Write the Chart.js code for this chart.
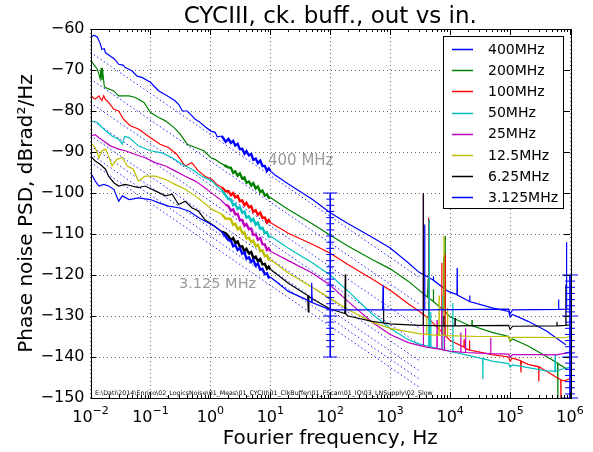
<!DOCTYPE html>
<html lang="en">
<head>
<meta charset="UTF-8">
<title>CYCIII, ck. buff., out vs in.</title>
<script src="https://cdn.jsdelivr.net/npm/chart.js@4"></script>
<style>
  html, body { margin: 0; padding: 0; background: #fff; }
  canvas { display: block; }
</style>
</head>
<body>
<canvas id="psdChart" width="593" height="452"></canvas>

<script>
// Values: [frequency Hz, dBrad^2/Hz]
var labels = ['400MHz', '200MHz', '100MHz', '50MHz', '25MHz', '12.5MHz', '6.25MHz', '3.125MHz'];
var colors = ['#0000ff', '#008000', '#ff0000', '#00bfbf', '#bf00bf', '#bfbf00', '#000000', '#0000ff'];

// low end of each measurement, 10 mHz .. 2 Hz
var low400 = [[0.01,-62],[0.0115,-61.5],[0.013,-62],[0.0145,-63.5],[0.0155,-65],[0.017,-64.8],[0.0178,-65.8],[0.021,-66.5],[0.025,-67.3],[0.0295,-68.6],[0.035,-68.8],[0.038,-69.4],[0.049,-70.2],[0.06,-71.5],[0.072,-71.8],[0.1,-73],[0.12,-74.2],[0.138,-75.1],[0.19,-76.3],[0.257,-77.5],[0.3,-78.5],[0.34,-80],[0.41,-80],[0.48,-81],[0.56,-82],[0.65,-82.6],[0.78,-83.6],[1.02,-84.9],[1.2,-85.2],[1.3,-86.3],[1.55,-86.1],[1.8,-87.5]];
var low200 = [[0.01,-67.5],[0.0115,-68.8],[0.013,-69.8],[0.0138,-71],[0.0145,-72.2],[0.015,-69.5],[0.0155,-72.5],[0.016,-70.5],[0.017,-74],[0.0178,-74.3],[0.0245,-75.1],[0.0295,-76.3],[0.044,-76.3],[0.056,-76.7],[0.078,-77.9],[0.1,-80.4],[0.138,-81.6],[0.178,-82.4],[0.245,-84],[0.316,-85.7],[0.41,-88.1],[0.56,-88.9],[0.78,-89.7],[1.02,-91.4],[1.2,-91.8],[1.45,-92.6],[1.7,-93.2]];
var low100 = [[0.01,-76.3],[0.012,-77.1],[0.0138,-76.3],[0.0155,-77.5],[0.0166,-76.3],[0.0178,-77.2],[0.02,-77.9],[0.0245,-79.6],[0.0295,-80],[0.0355,-82],[0.046,-83.6],[0.063,-84.4],[0.1,-86.5],[0.145,-88.1],[0.2,-88.9],[0.275,-90.6],[0.38,-93.4],[0.49,-92.6],[0.63,-94.6],[0.81,-95.9],[1.07,-96.7],[1.3,-98],[1.55,-98.6],[1.8,-99.6]];
var low50 = [[0.01,-82.4],[0.013,-82.8],[0.0166,-84.4],[0.0229,-86.1],[0.0295,-86.9],[0.034,-88.1],[0.037,-86.2],[0.044,-86.5],[0.063,-88.5],[0.1,-89.7],[0.155,-90.2],[0.23,-91.4],[0.34,-93],[0.49,-94.2],[0.72,-95.9],[1.07,-97.1],[1.3,-98.4],[1.55,-99.3],[1.8,-100.6]];
var low25 = [[0.01,-86.1],[0.012,-85.8],[0.0138,-86.5],[0.0166,-87.3],[0.0214,-88.5],[0.0295,-89.3],[0.038,-89.7],[0.056,-90.6],[0.081,-91.4],[0.12,-92.6],[0.178,-93.4],[0.257,-94.6],[0.38,-95.9],[0.56,-97.1],[0.81,-98.7],[1.2,-100.7],[1.45,-101.5],[1.78,-102.8]];
var low12 = [[0.01,-87.7],[0.012,-88.9],[0.0138,-91.4],[0.0155,-89.7],[0.0178,-89.3],[0.02,-91],[0.0229,-93.4],[0.0275,-91.8],[0.034,-91.4],[0.041,-93.4],[0.052,-94.2],[0.063,-97.1],[0.081,-95.9],[0.12,-95.9],[0.178,-96.7],[0.257,-97.9],[0.38,-99.1],[0.56,-100.7],[0.78,-102.4],[1.07,-104],[1.3,-104.6],[1.55,-105.2],[1.8,-106.3]];
var low6 = [[0.01,-91],[0.012,-92.2],[0.0145,-93],[0.0178,-94.2],[0.02,-95.9],[0.0245,-97.5],[0.0295,-98.3],[0.038,-97.9],[0.049,-98.3],[0.063,-98.7],[0.081,-98.3],[0.105,-99.1],[0.138,-99.9],[0.178,-100.7],[0.23,-100.3],[0.295,-102.8],[0.38,-102],[0.49,-103.6],[0.63,-104.4],[0.81,-106.5],[1.07,-107.7],[1.3,-108.6],[1.55,-109.4],[1.8,-109.8]];
var low3 = [[0.01,-95],[0.012,-97.1],[0.0138,-98.3],[0.0166,-97.9],[0.02,-98.3],[0.0245,-99.1],[0.0295,-102],[0.034,-100.7],[0.044,-101.6],[0.063,-101.2],[0.1,-101.6],[0.138,-102.4],[0.2,-103.2],[0.295,-103.6],[0.44,-104.4],[0.63,-106],[0.93,-107.3],[1.2,-108.2],[1.38,-108.9],[1.6,-109.8],[1.8,-110.6]];

// noisy band, 2 .. 10 Hz (shared frequencies)
var bandFreq = [2.0, 2.2, 2.4, 2.6, 2.85, 3.1, 3.4, 3.7, 4.0, 4.4, 4.8, 5.2, 5.7, 6.2, 6.8, 7.4, 8.1, 8.8, 9.4, 10];
var band400 = [-86.8, -87.8, -87.3, -88.4, -88.0, -89.3, -89.2, -90.4, -89.8, -90.8, -90.5, -91.9, -91.6, -92.7, -92.1, -93.4, -93.4, -94.6, -94.0, -94.6];
var band200 = [-93.8, -93.8, -95.1, -94.7, -95.8, -95.2, -96.5, -96.2, -97.5, -97.2, -98.2, -97.6, -98.9, -98.4, -99.8, -99.4, -100.6, -100.3, -101.2, -101.1];
var band100 = [-99.5, -100.5, -100.0, -101.1, -100.7, -102.0, -101.8, -103.0, -102.4, -103.5, -103.2, -104.6, -104.2, -105.3, -104.8, -106.1, -106.0, -107.2, -106.6, -107.2];
var band50 = [-101.5, -101.6, -103.0, -102.7, -103.9, -103.4, -104.8, -104.5, -106.0, -105.7, -106.8, -106.3, -107.7, -107.2, -108.7, -108.5, -109.8, -109.6, -110.6, -110.5];
var band25 = [-103.2, -104.3, -104.0, -105.2, -105.1, -106.6, -106.6, -108.0, -107.6, -108.8, -108.7, -110.2, -110.1, -111.4, -111.0, -112.5, -112.6, -113.9, -113.5, -114.2];
var band12 = [-106.2, -106.4, -107.8, -107.5, -108.8, -108.4, -109.8, -109.6, -111.1, -110.9, -112.0, -111.6, -113.0, -112.6, -114.2, -114.0, -115.4, -115.2, -116.2, -116.2];
var band6 = [-110.5, -111.5, -111.0, -112.1, -111.8, -113.1, -113.0, -114.2, -113.6, -114.7, -114.4, -115.8, -115.5, -116.6, -116.1, -117.4, -117.3, -118.5, -118.0, -118.6];
var band3 = [-111.5, -111.6, -113.0, -112.7, -113.9, -113.4, -114.8, -114.5, -116.0, -115.7, -116.8, -116.3, -117.7, -117.2, -118.7, -118.5, -119.8, -119.6, -120.6, -120.5];

// second instrument, > 10 Hz, with the spurs
var high400 = [[12,-95.6],[20,-97.8],[50,-101.5],[100,-104.8],[200,-107.5],[500,-110.8],[1000,-113.4],[2000,-117],[3000,-119.3],[5200,-121.2],[5250,-120.3],[5300,-121.3],[9300,-124],[13000,-124.8],[13100,-118.3],[13200,-124.9],[20000,-126.3],[21000,-126.5],[21200,-125],[21400,-126.5],[50000,-128],[95000,-128.9],[100000,-130.2],[110000,-129.6],[200000,-131.3],[400000,-133.6],[850000,-137]];
var high200 = [[20,-104],[50,-107.5],[100,-110.3],[200,-113],[500,-116.2],[1000,-118.5],[2000,-121.5],[4200,-125.4],[4300,-121],[4400,-125.6],[5200,-126.4],[5250,-123.5],[5300,-126.5],[7700,-128.5],[7750,-115.5],[7800,-128.6],[8200,-128.9],[8250,-110.5],[8300,-129],[10000,-130.2],[20000,-132.2],[23000,-132.4],[23200,-131],[23400,-132.4],[50000,-134],[95000,-135],[100000,-136.2],[110000,-135.6],[200000,-137.3],[400000,-139.8],[620000,-141.5],[625000,-150],[630000,-141.6],[900000,-143]];
var high100 = [[20,-109.8],[50,-112.5],[100,-114.7],[200,-117.5],[500,-121],[1000,-123.7],[2000,-127],[3000,-128.8],[4300,-130.5],[4350,-106],[4400,-130.6],[5000,-131.5],[7200,-133.8],[7250,-117],[7300,-133.9],[8200,-134.6],[8250,-115],[8300,-134.7],[10000,-136],[17000,-137.6],[17100,-135.7],[17200,-137.7],[20000,-138.2],[21000,-138.3],[21100,-136],[21200,-138.3],[50000,-139.4],[95000,-140],[100000,-141],[110000,-140.3],[150000,-140.9],[152000,-143.8],[154000,-141],[200000,-141.8],[300000,-142.4],[302000,-146],[304000,-142.4],[400000,-143.4],[600000,-145],[700000,-145.5],[705000,-150],[710000,-145.6],[800000,-145.8],[1000000,-145.3]];
var high50 = [[20,-113.5],[50,-117],[100,-120],[200,-124],[500,-129.5],[1000,-133],[2000,-135.8],[3000,-136.8],[4400,-137.4],[4450,-106.5],[4500,-137.4],[4700,-137.5],[4750,-129],[4800,-137.5],[7500,-138.2],[7550,-125],[7600,-138.2],[11000,-138.8],[11100,-126.8],[11200,-138.8],[20000,-139.6],[35000,-140.4],[35200,-145.4],[35400,-140.4],[50000,-141],[95000,-141.6],[100000,-142.5],[110000,-141.9],[200000,-142.6],[400000,-143.4],[560000,-143.5],[565000,-139.3],[570000,-143.5],[800000,-142.8],[1000000,-142.5]];
var high25 = [[20,-116.5],[50,-119.5],[100,-122.5],[200,-126.5],[500,-131.5],[1000,-134.5],[2000,-136.5],[3550,-137.4],[3580,-100.5],[3600,-137.4],[4000,-137.6],[6000,-138],[6050,-131],[6100,-138],[7200,-138.2],[7250,-128],[7300,-138.2],[8000,-138.3],[8050,-132],[8100,-138.3],[10000,-138.6],[15000,-138.8],[15100,-134],[15200,-138.8],[18000,-138.9],[18100,-133],[18200,-138.9],[47000,-139.2],[47500,-135.3],[48000,-139.2],[95000,-139.3],[100000,-140],[110000,-139.4],[300000,-139.4],[600000,-139.5],[1000000,-138.8]];
var high12 = [[20,-119.5],[50,-123],[100,-125.7],[200,-128.5],[500,-131.5],[1000,-133],[3000,-134.3],[4000,-134.5],[4050,-130],[4100,-134.5],[6500,-134.7],[6550,-125],[6600,-134.7],[7800,-134.7],[7850,-110.5],[7900,-134.7],[9000,-134.8],[9050,-128],[9100,-134.8],[30000,-135],[95000,-135],[100000,-136],[110000,-135.2],[300000,-135.2],[800000,-135.3],[1000000,-135]];
var high6 = [[20,-122],[42,-125],[43,-129],[44,-125.2],[50,-125.8],[100,-128.3],[175,-129.4],[178,-119.8],[181,-129.5],[200,-130],[500,-131.3],[770,-131.7],[775,-127.6],[780,-131.7],[1000,-131.9],[3000,-132.3],[3550,-132.3],[3560,-100],[3570,-132.3],[7800,-132.4],[7850,-130],[7900,-132.4],[12000,-132.4],[12100,-130.5],[12200,-132.4],[95000,-132.3],[100000,-133.3],[110000,-132.5],[600000,-132.4],[605000,-131.4],[610000,-132.4],[850000,-132.3],[855000,-122.3],[860000,-132.3],[1000000,-132.2]];
var high3 = [[20,-124],[40,-126],[48,-126.6],[49,-121.9],[50,-126.7],[100,-128.5],[750,-128.5],[760,-122.5],[770,-128.5],[3700,-128.5],[3750,-107.7],[3800,-128.5],[95000,-128.3],[100000,-129.5],[110000,-128.5],[640000,-128.4],[645000,-126],[650000,-128.4],[870000,-128.3],[875000,-112],[880000,-128.3],[1000000,-128.3]];

var lowParts = [low400, low200, low100, low50, low25, low12, low6, low3];
var bandParts = [band400, band200, band100, band50, band25, band12, band6, band3];
var highParts = [high400, high200, high100, high50, high25, high12, high6, high3];

// dotted "in" reference lines, one per series: level at 10 mHz and at 3 kHz
var dottedFreq = [0.01, 3000];
var dottedStart = [-65.7, -72.2, -78, -82, -86, -88.5, -90.5, -92.5];
var dottedEnd = [-120.5, -127, -132.8, -136.8, -140.8, -143.3, -145.3, -147.3];

// blue marker ladders at 100 Hz and 1 MHz
var ladderFreq = [100, 1000000];
var ladderLow = [-100,-101.5,-103,-104.5,-106,-107.5,-109,-110.5,-112,-113.5,-115,-116.5,-118,-119.5,-121,-122.5,-124,-125.5,-127,-128.5,-130,-131.5,-133,-134.5,-136,-137.5,-140];
var ladderHigh = [-120,-121.5,-123,-124.5,-126,-127.5,-129,-130,-131.5,-133,-134.5,-136,-137.5,-139,-140,-141.5,-143,-144.5,-146,-147.5,-149,-150];

var xDecades = [-2, -1, 0, 1, 2, 3, 4, 5, 6];
var yTickValues = [-150, -140, -130, -120, -110, -100, -90, -80, -70, -60];

var titleText = 'CYCIII, ck. buff., out vs in.';
var xTitle = 'Fourier frequency, Hz';
var yTitle = 'Phase noise PSD, dBrad\u00b2/Hz';
var pathText = 'E:\\Dati\\2014\\Enrico\\02_LogicsNoise\\01_Meas\\01_CYCIII\\01_ClkBuffer\\01_FScan\\01_IO\\03_LNSupply\\02_Slow';

var FONT = '"DejaVu Sans", sans-serif';

function toXY(pts) {
    return pts.map(function (p) { return {x: p[0], y: p[1]}; });
}

var datasets = [];
dottedStart.forEach(function (v, i) {
    datasets.push({
        label: 'in ' + labels[i],
        data: [{x: dottedFreq[0], y: v}, {x: dottedFreq[1], y: dottedEnd[i]}],
        borderColor: 'rgba(0,0,255,0.85)',
        borderWidth: 1,
        borderDash: [1.5, 2.5],
        pointRadius: 0,
        order: 20
    });
});
labels.forEach(function (lab, i) {
    var band = bandFreq.map(function (f, k) { return [f, bandParts[i][k]]; });
    var pts = lowParts[i].concat(band, highParts[i]);
    datasets.push({
        label: lab,
        inLegend: true,
        data: toXY(pts),
        borderColor: colors[i],
        borderWidth: 1.2,
        pointRadius: 0,
        order: 10 - i,
        // the densely sampled 1..10 Hz stretch reads as a thick noisy band
        segment: {
            borderWidth: function (c) {
                return (c.p0.parsed.x >= 1.5 && c.p1.parsed.x <= 10) ? 2.4 : 1.2;
            }
        }
    });
});
function ladder(freq, values, shortR, longR) {
    return {
        label: 'ladder',
        data: values.map(function (v) { return {x: freq, y: v}; }),
        borderColor: '#0000ff',
        borderWidth: 1,
        pointStyle: 'line',
        pointBorderColor: '#0000ff',
        pointBorderWidth: 1,
        pointRadius: values.map(function (v) { return v % 10 === 0 ? longR : shortR; }),
        clip: false,
        order: 0
    };
}
datasets.push(ladder(ladderFreq[0], ladderLow, 4, 7));
datasets.push(ladder(ladderFreq[1], ladderHigh, 5, 8));

var supMap = {'-': '\u2212', '0': '0', '1': '1', '2': '2', '3': '3', '4': '4', '5': '5', '6': '6'};

var decorPlugin = {
    id: 'decor',
    afterDatasetsDraw: function (chart) {
        var ctx = chart.ctx, a = chart.chartArea;
        var xs = chart.scales.x, ys = chart.scales.y;
        ctx.save();
        ctx.strokeStyle = '#000';
        ctx.lineWidth = 1;
        ctx.beginPath();
        // inward ticks on all four sides
        xDecades.forEach(function (e, k) {
            var px = Math.round(xs.getPixelForValue(Math.pow(10, e))) + 0.5;
            ctx.moveTo(px, a.bottom); ctx.lineTo(px, a.bottom - 6);
            ctx.moveTo(px, a.top); ctx.lineTo(px, a.top + 6);
            if (k < xDecades.length - 1) {
                for (var m = 2; m <= 9; m++) {
                    var pm = Math.round(xs.getPixelForValue(m * Math.pow(10, e))) + 0.5;
                    ctx.moveTo(pm, a.bottom); ctx.lineTo(pm, a.bottom - 3);
                    ctx.moveTo(pm, a.top); ctx.lineTo(pm, a.top + 3);
                }
            }
        });
        yTickValues.forEach(function (v) {
            var py = Math.round(ys.getPixelForValue(v)) + 0.5;
            ctx.moveTo(a.left, py); ctx.lineTo(a.left + 6, py);
            ctx.moveTo(a.right, py); ctx.lineTo(a.right - 6, py);
        });
        ctx.stroke();
        ctx.strokeRect(Math.round(a.left) + 0.5, Math.round(a.top) + 0.5,
            Math.round(a.right - a.left), Math.round(a.bottom - a.top));
        ctx.restore();
    },
    afterDraw: function (chart) {
        var ctx = chart.ctx, a = chart.chartArea;
        var xs = chart.scales.x;
        var cx = (a.left + a.right) / 2;
        ctx.save();
        ctx.fillStyle = '#000';

        ctx.font = '23px ' + FONT;
        ctx.textAlign = 'center';
        ctx.textBaseline = 'alphabetic';
        ctx.fillText(titleText, cx, 23);

        ctx.font = '20px ' + FONT;
        ctx.fillText(xTitle, cx, 444);
        ctx.save();
        ctx.translate(32, (a.top + a.bottom) / 2);
        ctx.rotate(-Math.PI / 2);
        ctx.fillText(yTitle, 0, 0);
        ctx.restore();

        // x tick labels 10^n
        xDecades.forEach(function (e) {
            var px = xs.getPixelForValue(Math.pow(10, e));
            var exp = String(e).split('').map(function (c) { return supMap[c]; }).join('');
            ctx.font = '16px ' + FONT;
            var w1 = ctx.measureText('10').width;
            ctx.font = '11px ' + FONT;
            var w2 = ctx.measureText(exp).width;
            var x0 = px - (w1 + w2) / 2;
            ctx.textAlign = 'left';
            ctx.font = '16px ' + FONT;
            ctx.fillText('10', x0, 421.5);
            ctx.font = '11px ' + FONT;
            ctx.fillText(exp, x0 + w1, 414);
        });

        // annotations
        ctx.fillStyle = '#9a9a9a';
        ctx.font = '15px ' + FONT;
        ctx.textAlign = 'left';
        ctx.fillText('400 MHz', 268, 165);
        ctx.font = '14.5px ' + FONT;
        ctx.fillText('3.125 MHz', 179, 288);

        // file path
        ctx.fillStyle = '#000';
        ctx.font = '6.3px ' + FONT;
        ctx.fillText(pathText, 95, 394.5);

        // legend box
        var lx = 443, ly = 36, lw = 120, lh = 172;
        ctx.fillStyle = '#fff';
        ctx.fillRect(lx, ly, lw, lh);
        ctx.strokeStyle = '#000';
        ctx.lineWidth = 1;
        ctx.strokeRect(lx + 0.5, ly + 0.5, lw, lh);
        ctx.font = '14px ' + FONT;
        ctx.textBaseline = 'middle';
        var row = 0;
        chart.data.datasets.forEach(function (ds) {
            if (!ds.inLegend) return;
            var y = 49 + row * 21.2;
            ctx.strokeStyle = ds.borderColor;
            ctx.lineWidth = 1.5;
            ctx.beginPath();
            ctx.moveTo(452, Math.round(y) + 0.5);
            ctx.lineTo(473, Math.round(y) + 0.5);
            ctx.stroke();
            ctx.fillStyle = '#000';
            ctx.fillText(ds.label, 488, y + 1);
            row++;
        });
        ctx.restore();
    }
};

var ctx = document.getElementById('psdChart').getContext('2d');
new Chart(ctx, {
    type: 'line',
    data: { datasets: datasets },
    options: {
        responsive: false,
        animation: false,
        layout: { padding: { top: 29, right: 23, left: 0, bottom: 0 } },
        elements: { line: { tension: 0 } },
        plugins: {
            legend: { display: false },
            tooltip: { enabled: false },
            title: { display: false }
        },
        scales: {
            x: {
                type: 'logarithmic',
                min: 0.01,
                max: 1000000,
                afterFit: function (s) { s.height = 54; },
                afterBuildTicks: function (s) {
                    s.ticks = xDecades.map(function (e) { return {value: Math.pow(10, e), major: true}; });
                },
                ticks: { display: false },
                grid: { color: 'rgba(0,0,0,0.6)', lineWidth: 1, drawTicks: false },
                border: { display: false, dash: [1, 3] }
            },
            y: {
                min: -150,
                max: -60,
                afterFit: function (s) { s.width = 90.5; },
                afterBuildTicks: function (s) {
                    s.ticks = yTickValues.map(function (v) { return {value: v}; });
                },
                ticks: {
                    padding: 6,
                    color: '#000',
                    font: { family: FONT, size: 16 },
                    callback: function (v) { return v < 0 ? '\u2212' + Math.abs(v) : String(v); }
                },
                grid: { color: 'rgba(0,0,0,0.6)', lineWidth: 1, drawTicks: false },
                border: { display: false, dash: [1, 3] }
            }
        }
    },
    plugins: [decorPlugin]
});
</script>
</body>
</html>
